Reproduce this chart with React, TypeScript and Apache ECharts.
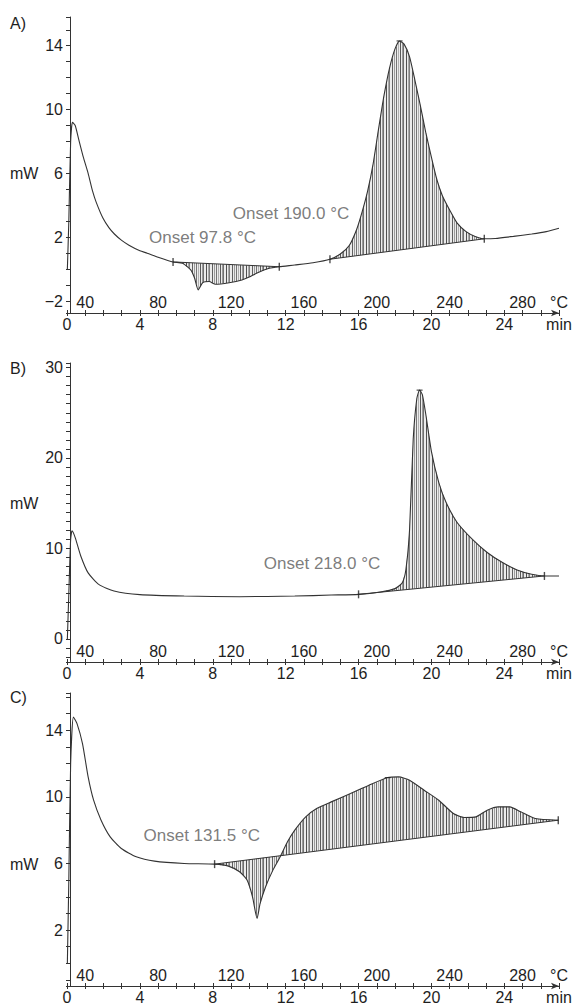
import React, { useEffect, useRef } from "react";
import * as echarts from "echarts";

// ---------- data ----------
// time axis (min) and temperature axis (°C) tick labels
const timeLabels = [0, 4, 8, 12, 16, 20, 24];
const tempLabels = [40, 80, 120, 160, 200, 240, 280];
const yLabelsA = [-2, 2, 6, 10, 14];
const yLabelsB = [0, 10, 20, 30];
const yLabelsC = [2, 6, 10, 14];

// Panel A: DSC curve [time (min), heat flow (mW)]
const curveA: [number, number][] = [
  [0.02, 0.0], [0.1, 3.0], [0.2, 8.0], [0.3, 9.2], [0.45, 9.0], [0.65, 8.1], [0.9, 7.0],
  [1.16, 6.0], [1.4, 4.9], [1.6, 4.2], [1.97, 3.2], [2.3, 2.6], [2.6, 2.2], [3.0, 1.8],
  [3.4, 1.5], [4.0, 1.15], [4.4, 1.0], [5.0, 0.75], [5.82, 0.45], [6.34, 0.37], [6.8, -0.06],
  [7.0, -0.56], [7.2, -1.3], [7.45, -0.85], [7.8, -0.78], [8.15, -0.95], [8.9, -0.85],
  [9.6, -0.68], [10.0, -0.5], [10.4, -0.26], [11.1, 0.05], [11.65, 0.15], [12.5, 0.26],
  [13.5, 0.4], [14.43, 0.62], [15.0, 0.95], [15.5, 1.5], [15.9, 2.5], [16.2, 3.6], [16.5, 4.9],
  [16.8, 6.6], [17.1, 8.8], [17.4, 10.9], [17.7, 12.6], [18.0, 13.8], [18.25, 14.3], [18.5, 14.1],
  [18.8, 13.3], [19.1, 11.8], [19.4, 10.2], [19.7, 8.5], [20.0, 7.0], [20.3, 5.6], [20.6, 4.6],
  [21.0, 3.7], [21.4, 2.9], [21.9, 2.35], [22.4, 2.05], [22.9, 1.9], [23.5, 1.92], [24.5, 2.05],
  [25.5, 2.2], [26.3, 2.35], [27.0, 2.56],
];
const baselineA1: [number, number][] = [[5.82, 0.45], [11.65, 0.15]];
const baselineA2: [number, number][] = [[14.43, 0.62], [22.9, 1.9]];
const peakA: [number, number][] = [[18.25, 14.3]];

// Panel B
const curveB: [number, number][] = [
  [0.02, 0.0], [0.1, 5.0], [0.2, 11.0], [0.28, 11.96], [0.45, 11.2], [0.75, 9.2], [1.16, 7.3],
  [1.76, 6.0], [2.58, 5.3], [4.0, 4.9], [6.43, 4.74], [9.47, 4.67], [12.5, 4.74], [14.5, 4.85],
  [16.0, 4.93], [17.2, 5.19], [18.0, 5.56], [18.4, 6.2], [18.6, 7.7], [18.8, 12.1], [19.0, 22.1],
  [19.2, 26.6], [19.35, 27.5], [19.5, 27.0], [19.7, 24.7], [20.0, 20.7], [20.4, 17.3],
  [20.8, 15.1], [21.4, 12.9], [22.25, 11.0], [23.06, 9.56], [23.9, 8.44], [24.7, 7.63],
  [25.5, 7.15], [26.2, 6.96], [27.0, 6.96],
];
const baselineB: [number, number][] = [[16.0, 4.93], [26.2, 6.96]];
const peakB: [number, number][] = [[19.35, 27.5]];

// Panel C
const curveC: [number, number][] = [
  [0.02, 0.0], [0.1, 5.0], [0.2, 12.0], [0.35, 14.8], [0.55, 14.4], [0.85, 13.2], [1.16, 11.2],
  [1.46, 9.8], [1.87, 8.6], [2.37, 7.6], [2.98, 6.9], [3.8, 6.4], [4.8, 6.14], [6.43, 6.0],
  [8.1, 5.96], [8.86, 5.84], [9.47, 5.5], [9.88, 5.0], [10.18, 4.0], [10.43, 2.7], [10.6, 3.6],
  [10.9, 4.6], [11.3, 5.6], [11.7, 6.4], [12.1, 7.3], [12.5, 8.0], [13.1, 8.8], [13.7, 9.3],
  [14.5, 9.7], [15.56, 10.2], [16.57, 10.7], [17.6, 11.16], [18.2, 11.2], [18.8, 11.0],
  [19.6, 10.4], [20.4, 9.8], [21.2, 9.0], [21.8, 8.76], [22.45, 8.8], [23.06, 9.2], [23.67, 9.4],
  [24.3, 9.4], [24.9, 9.1], [25.7, 8.7], [26.96, 8.6],
];
const baselineC: [number, number][] = [[8.1, 5.96], [26.96, 8.6]];
const peakC: [number, number][] = [[17.6, 11.16]];

// annotations: [time, mW, text]
const annotationsA: [number, number, string][] = [
  [4.5, 2.0, "Onset 97.8 °C"],
  [9.1, 3.5, "Onset 190.0 °C"],
];
const annotationsB: [number, number, string][] = [[10.8, 8.3, "Onset 218.0 °C"]];
const annotationsC: [number, number, string][] = [[4.2, 7.7, "Onset 131.5 °C"]];

// ---------- styling helpers ----------
const FONT = '"Liberation Sans", Arial, Helvetica, sans-serif';
const INK = "#1e1e1e";
const LINE = "#333333";
const TIME_MAX = 27;

function makeHatch() {
  const lines: [number, string][] = [
    [0, "#5a5a5a"], [2, "#9a9a9a"], [3, "#707070"], [6, "#505050"], [8, "#a8a8a8"],
    [9, "#808080"], [12, "#606060"], [14, "#9c9c9c"], [16, "#747474"], [18, "#b0b0b0"],
  ];
  const svg =
    '<svg xmlns="http://www.w3.org/2000/svg" width="20" height="20">' +
    '<rect width="20" height="20" fill="#ececec"/>' +
    lines.map(([x, c]) => `<rect x="${x}" y="0" width="1" height="20" fill="${c}"/>`).join("") +
    "</svg>";
  return {
    image: "data:image/svg+xml;charset=utf-8," + encodeURIComponent(svg),
    repeat: "repeat",
    imageWidth: 20,
    imageHeight: 20,
  };
}

const fmtNum = (v: number) => (v < 0 ? "\u2212" + Math.abs(v) : String(v));

function timeAxis(gridIndex: number) {
  return {
    type: "value",
    gridIndex,
    position: "bottom",
    min: 0,
    max: TIME_MAX,
    interval: 1,
    axisLine: {
      show: true,
      onZero: false,
      lineStyle: { color: LINE, width: 1 },
      symbol: ["none", "arrow"],
      symbolSize: [5, 8],
    },
    axisTick: { show: true, length: 3, lineStyle: { color: LINE } },
    axisLabel: {
      margin: 3,
      fontSize: 16,
      fontFamily: FONT,
      color: INK,
      showMinLabel: true,
      showMaxLabel: true,
      formatter: (v: number) =>
        timeLabels.includes(v) ? String(v) : v === TIME_MAX ? "min" : "",
    },
    splitLine: { show: false },
  };
}

function tempAxis(gridIndex: number) {
  return {
    type: "value",
    gridIndex,
    position: "bottom",
    min: 30,
    max: 30 + 10 * TIME_MAX,
    interval: 10,
    axisLine: { show: false, onZero: false },
    axisTick: { show: true, inside: true, length: 3, lineStyle: { color: LINE } },
    axisLabel: {
      inside: true,
      margin: 3,
      fontSize: 16,
      fontFamily: FONT,
      color: INK,
      showMinLabel: true,
      showMaxLabel: true,
      formatter: (v: number) =>
        tempLabels.includes(v) ? String(v) : v === 30 + 10 * TIME_MAX ? "°C" : "",
    },
    splitLine: { show: false },
  };
}

function yAxis(gridIndex: number, min: number, max: number, labels: number[]) {
  return {
    type: "value",
    gridIndex,
    min,
    max,
    minInterval: 1,
    maxInterval: 1,
    offset: -3,
    axisLine: { show: true, onZero: false, lineStyle: { color: LINE, width: 1 } },
    axisTick: { show: true, length: 4, lineStyle: { color: LINE } },
    axisLabel: {
      margin: 7,
      fontSize: 16,
      fontFamily: FONT,
      color: INK,
      showMinLabel: true,
      showMaxLabel: true,
      formatter: (v: number) => (labels.includes(v) ? fmtNum(v) : ""),
    },
    splitLine: { show: false },
  };
}

function panelSeries(
  xi: number,
  yi: number,
  curve: [number, number][],
  baselines: [number, number][][],
  peaks: [number, number][],
  notes: [number, number, string][],
  hatch: any
) {
  const out: any[] = [];
  baselines.forEach((bl) => {
    out.push({
      type: "custom",
      xAxisIndex: xi,
      yAxisIndex: yi,
      silent: true,
      z: 1,
      data: [[bl[0][0], bl[0][1]]],
      encode: { x: 0, y: 1 },
      renderItem: (_p: any, api: any) => {
        const [t0, v0] = bl[0];
        const [t1, v1] = bl[1];
        const pts: number[][] = [api.coord([t0, v0])];
        curve.forEach(([t, v]) => {
          if (t > t0 && t < t1) pts.push(api.coord([t, v]));
        });
        pts.push(api.coord([t1, v1]));
        return {
          type: "polygon",
          shape: { points: pts },
          style: { fill: hatch, stroke: "none" },
        };
      },
    });
    out.push({
      type: "line",
      xAxisIndex: xi,
      yAxisIndex: yi,
      data: bl,
      symbol: "none",
      silent: true,
      z: 3,
      lineStyle: { color: LINE, width: 1 },
    });
  });
  out.push({
    type: "line",
    xAxisIndex: xi,
    yAxisIndex: yi,
    data: curve,
    symbol: "none",
    smooth: 0.2,
    silent: true,
    z: 4,
    lineStyle: { color: LINE, width: 1.1 },
  });
  const markerPts: [number, number][] = [];
  baselines.forEach((bl) => markerPts.push(bl[0], bl[1]));
  out.push({
    type: "scatter",
    xAxisIndex: xi,
    yAxisIndex: yi,
    data: markerPts,
    symbol: "rect",
    symbolSize: [1.4, 8],
    itemStyle: { color: "#222" },
    silent: true,
    z: 5,
  });
  out.push({
    type: "scatter",
    xAxisIndex: xi,
    yAxisIndex: yi,
    data: peaks,
    symbol: "rect",
    symbolSize: [6, 1.2],
    itemStyle: { color: "#222" },
    silent: true,
    z: 5,
  });
  out.push({
    type: "scatter",
    xAxisIndex: xi,
    yAxisIndex: yi,
    symbolSize: 0,
    silent: true,
    z: 6,
    data: notes.map(([t, v, text]) => ({ value: [t, v], label: { formatter: text } })),
    label: {
      show: true,
      position: "right",
      distance: 0,
      fontSize: 17,
      fontFamily: FONT,
      color: "#5a5a5a",
    },
  });
  return out;
}

function txt(x: number, y: number, text: string) {
  return {
    type: "text",
    x,
    y,
    silent: true,
    style: {
      text,
      fontSize: 16,
      fontFamily: FONT,
      fill: INK,
      align: "left",
      verticalAlign: "middle",
    },
  };
}

export default function App() {
  const ref = useRef<HTMLDivElement>(null);
  useEffect(() => {
    if (!ref.current) return;
    const chart = echarts.init(ref.current, null, { renderer: "svg" });
    const hatch = makeHatch();
    const gridBase = { left: 67, right: 17, containLabel: false };
    const option: any = {
      animation: false,
      backgroundColor: "#ffffff",
      grid: [
        { ...gridBase, top: 17, height: 296 },
        { ...gridBase, top: 363, height: 299 },
        { ...gridBase, top: 693, height: 293 },
      ],
      xAxis: [timeAxis(0), tempAxis(0), timeAxis(1), tempAxis(1), timeAxis(2), tempAxis(2)],
      yAxis: [
        yAxis(0, -2.75, 15.8, yLabelsA),
        yAxis(1, -2.55, 30.5, yLabelsB),
        yAxis(2, -1.36, 16.24, yLabelsC),
      ],
      series: [
        ...panelSeries(0, 0, curveA, [baselineA1, baselineA2], peakA, annotationsA, hatch),
        ...panelSeries(2, 1, curveB, [baselineB], peakB, annotationsB, hatch),
        ...panelSeries(4, 2, curveC, [baselineC], peakC, annotationsC, hatch),
      ],
      graphic: [
        txt(10, 23, "A)"),
        txt(10, 173, "mW"),
        txt(10, 368, "B)"),
        txt(10, 503, "mW"),
        txt(10, 697, "C)"),
        txt(10, 864, "mW"),
      ],
    };
    chart.setOption(option);
    return () => chart.dispose();
  }, []);
  return (
    <div
      ref={ref}
      style={{ position: "absolute", left: 0, top: 0, width: 576, height: 1008 }}
    />
  );
}
